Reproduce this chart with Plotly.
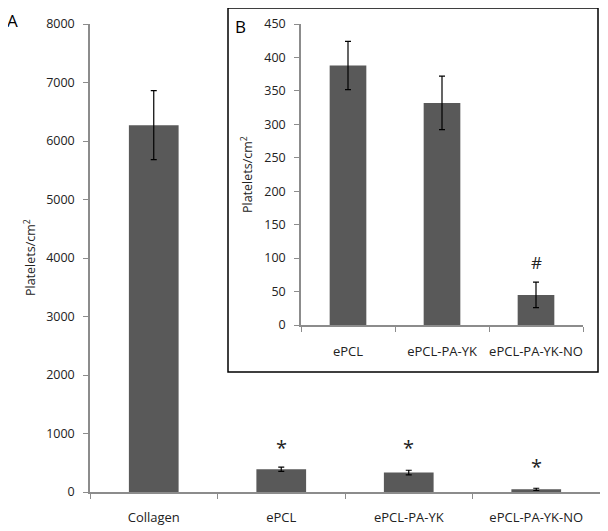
import plotly.graph_objects as go

# Main panel (A)
main_categories = ["Collagen", "ePCL", "ePCL-PA-YK", "ePCL-PA-YK-NO"]
main_values = [6270, 388, 332, 45]
main_errors = [590, 36, 40, 19]
main_marks = ["", "*", "*", "*"]
main_mark_y = [None, 490, 490, 175]

# Inset panel (B)
inset_categories = ["ePCL", "ePCL-PA-YK", "ePCL-PA-YK-NO"]
inset_values = [388, 332, 45]
inset_errors = [36, 40, 19]
inset_marks = ["", "", "#"]
inset_mark_y = [None, None, 73]

main_ticks = [0, 1000, 2000, 3000, 4000, 5000, 6000, 7000, 8000]
inset_ticks = [0, 50, 100, 150, 200, 250, 300, 350, 400, 450]

OFF = 8  # page body margin
W, H = 608 - OFF, 531 - OFF
FONT = "Open Sans"
BAR = "#595959"
AX = "#8c8c8c"
TXT = "#222"

fig = go.Figure()
fig.add_trace(go.Bar(
    x=main_categories, y=main_values, width=0.39, marker_color=BAR,
    marker_line_width=0,
    error_y=dict(type="data", array=main_errors, color="black", thickness=1.2, width=3),
    xaxis="x", yaxis="y", showlegend=False))
fig.add_trace(go.Bar(
    x=inset_categories, y=inset_values, width=0.39, marker_color=BAR,
    marker_line_width=0,
    error_y=dict(type="data", array=inset_errors, color="black", thickness=1.2, width=3),
    xaxis="x2", yaxis="y2", showlegend=False))

def fx(x):
    return (x - OFF) / W

def fy(y):
    return (H - (y - OFF)) / H

axis_common = dict(showgrid=False, zeroline=False, showline=True, linecolor=AX,
                   linewidth=1.5, ticks="outside", tickcolor=AX, ticklen=5,
                   automargin=False)
xfont = dict(family=FONT, size=13, color=TXT)
yfont = dict(family=FONT, size=12.5, color=TXT)

fig.update_layout(
    width=W, height=H, margin=dict(l=0, r=0, t=0, b=0, autoexpand=False),
    paper_bgcolor="white", plot_bgcolor="rgba(0,0,0,0)",
    xaxis=dict(domain=[fx(90), fx(600)], anchor="y", tickson="boundaries",
               range=[-0.5, 3.5], tickangle=0, tickfont=xfont,
               ticklabelstandoff=13, **axis_common),
    yaxis=dict(domain=[fy(492), fy(24)], anchor="x", range=[0, 8000],
               tickvals=main_ticks, tickfont=yfont, ticklabelstandoff=6, **axis_common),
    xaxis2=dict(domain=[fx(301), fx(583)], anchor="y2", tickson="boundaries",
                range=[-0.5, 2.5], tickangle=0, tickfont=xfont,
                ticklabelstandoff=14, **axis_common),
    yaxis2=dict(domain=[fy(325), fy(24)], anchor="x2", range=[0, 450],
                tickvals=inset_ticks, tickfont=yfont, ticklabelstandoff=6, **axis_common),
)

# Inset border
fig.add_shape(type="rect", xref="paper", yref="paper",
              x0=fx(228), x1=fx(598), y0=fy(372), y1=fy(8),
              line=dict(color="black", width=1.5), fillcolor="rgba(0,0,0,0)",
              layer="below")

ann = []
for c, m, y in zip(main_categories, main_marks, main_mark_y):
    if m:
        ann.append(dict(x=c, y=y, xref="x", yref="y", text=m, showarrow=False,
                        yanchor="bottom", font=dict(family=FONT, size=20, color=TXT)))
for c, m, y in zip(inset_categories, inset_marks, inset_mark_y):
    if m:
        ann.append(dict(x=c, y=y, xref="x2", yref="y2", text=m, showarrow=False,
                        yanchor="bottom", font=dict(family=FONT, size=17, color=TXT)))
ann += [
    dict(x=fx(12), y=fy(20), xref="paper", yref="paper", text="A", showarrow=False,
         xanchor="center", yanchor="middle", font=dict(family=FONT, size=17, color="black")),
    dict(x=fx(240), y=fy(26), xref="paper", yref="paper", text="B", showarrow=False,
         xanchor="center", yanchor="middle", font=dict(family=FONT, size=17, color="black")),
    dict(x=fx(30), y=fy(258), xref="paper", yref="paper", text="Platelets/cm<sup>2</sup>",
         textangle=-90, showarrow=False, xanchor="center", yanchor="middle",
         font=dict(family=FONT, size=12.5, color=TXT)),
    dict(x=fx(247), y=fy(175), xref="paper", yref="paper", text="Platelets/cm<sup>2</sup>",
         textangle=-90, showarrow=False, xanchor="center", yanchor="middle",
         font=dict(family=FONT, size=12.5, color=TXT)),
]
fig.update_layout(annotations=ann)

fig.write_html("out.html")
